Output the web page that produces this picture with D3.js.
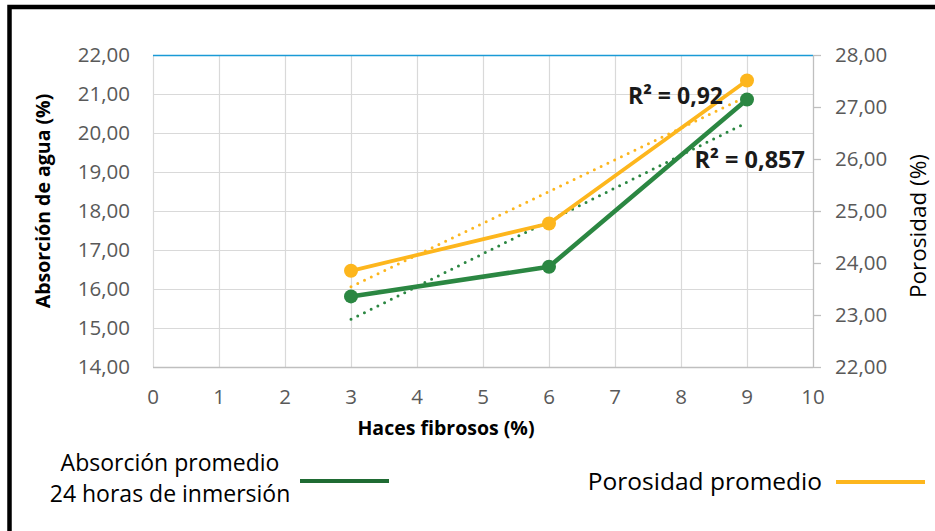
<!DOCTYPE html>
<html>
<head>
<meta charset="utf-8">
<script src="https://cdn.jsdelivr.net/npm/d3@7"></script>
<style>
  body { margin: 0; background: #fff; }
  text { font-family: "Open Sans", sans-serif; }
</style>
</head>
<body>
<div id="chart"></div>
<script>
// data
var haces = [3, 6, 9];
var absorcion = [15.81, 16.57, 20.86];   // left axis
var porosidad = [23.85, 24.76, 27.51];   // right axis
var xTicks = [0, 1, 2, 3, 4, 5, 6, 7, 8, 9, 10];
var leftTicks = [14, 15, 16, 17, 18, 19, 20, 21, 22];
var rightTicks = [22, 23, 24, 25, 26, 27, 28];
var r2Labels = ["R² = 0,92", "R² = 0,857"];

var width = 935, height = 531;
var green = "#2b8742", orange = "#fdb61d";

var svg = d3.select("#chart").append("svg")
    .attr("width", width)
    .attr("height", height);

// frame
svg.append("path")
    .attr("d", "M9.5," + height + "V7H" + width)
    .attr("fill", "none")
    .attr("stroke", "#000")
    .attr("stroke-width", 4.5);

var x = d3.scaleLinear().domain([0, 10]).range([153, 813]);
var yL = d3.scaleLinear().domain([14, 22]).range([367, 55]);
var yR = d3.scaleLinear().domain([22, 28]).range([367, 55]);

var fmt = function(d) { return d3.format(".2f")(d).replace(".", ","); };

// grid
svg.append("g").selectAll("line")
    .data(leftTicks.slice(0, -1))
    .enter().append("line")
    .attr("x1", x(0)).attr("x2", x(10))
    .attr("y1", function(d) { return yL(d) + 0.5; })
    .attr("y2", function(d) { return yL(d) + 0.5; })
    .attr("stroke", "#d9d9d9").attr("stroke-width", 1.2);
svg.append("g").selectAll("line")
    .data(xTicks.slice(0, -1))
    .enter().append("line")
    .attr("x1", function(d) { return x(d) + 0.5; })
    .attr("x2", function(d) { return x(d) + 0.5; })
    .attr("y1", yL(22)).attr("y2", yL(14))
    .attr("stroke", "#d9d9d9").attr("stroke-width", 1.2);

// top line in blue
svg.append("line")
    .attr("x1", x(0)).attr("x2", x(10))
    .attr("y1", yL(22) + 0.5).attr("y2", yL(22) + 0.5)
    .attr("stroke", "#1a9ad6").attr("stroke-width", 1.3);

// left tick labels
svg.append("g").selectAll("text")
    .data(leftTicks)
    .enter().append("text")
    .attr("x", 130)
    .attr("y", function(d) { return yL(d); })
    .attr("dy", "0.36em")
    .attr("text-anchor", "end")
    .attr("font-size", 20.5)
    .attr("fill", "#595959")
    .text(fmt);

// right axis
var axisR = svg.append("g")
    .attr("transform", "translate(" + x(10) + ",0)")
    .call(d3.axisRight(yR).tickValues(rightTicks).tickSize(8).tickSizeOuter(0).tickPadding(14).tickFormat(fmt));
axisR.select(".domain").attr("stroke", "#bfbfbf").attr("stroke-width", 1.3);
axisR.selectAll(".tick line").attr("stroke", "#bfbfbf").attr("stroke-width", 1.3);
axisR.selectAll(".tick text")
    .attr("font-family", "Open Sans, sans-serif")
    .attr("font-size", 20.5)
    .attr("fill", "#595959");

// bottom axis line and labels
svg.append("line")
    .attr("x1", x(0)).attr("x2", x(10))
    .attr("y1", yL(14) + 0.5).attr("y2", yL(14) + 0.5)
    .attr("stroke", "#bfbfbf").attr("stroke-width", 1.3);
svg.append("g").selectAll("text")
    .data(xTicks)
    .enter().append("text")
    .attr("x", function(d) { return x(d); })
    .attr("y", 397)
    .attr("dy", "0.36em")
    .attr("text-anchor", "middle")
    .attr("font-size", 20.5)
    .attr("fill", "#595959")
    .text(function(d) { return d; });

// axis titles
svg.append("text")
    .attr("x", 446).attr("y", 428)
    .attr("dy", "0.36em")
    .attr("text-anchor", "middle")
    .attr("font-size", 19.5)
    .attr("font-weight", "bold")
    .attr("fill", "#000")
    .text("Haces fibrosos (%)");
svg.append("text")
    .attr("transform", "translate(43,201) rotate(-90)")
    .attr("dy", "0.36em")
    .attr("text-anchor", "middle")
    .attr("font-size", 19.5)
    .attr("font-weight", "bold")
    .attr("fill", "#000")
    .text("Absorción de agua (%)");
svg.append("text")
    .attr("transform", "translate(918,226) rotate(-90)")
    .attr("dy", "0.36em")
    .attr("text-anchor", "middle")
    .attr("font-size", 22.5)
    .attr("fill", "#000")
    .text("Porosidad (%)");

// linear trend from the data
function fit(xs, ys) {
  var mx = d3.mean(xs), my = d3.mean(ys);
  var b = d3.sum(xs, function(v, i) { return (v - mx) * (ys[i] - my); }) /
          d3.sum(xs, function(v) { return (v - mx) * (v - mx); });
  return function(v) { return my + b * (v - mx); };
}

var series = [
  {vals: absorcion, y: yL, color: green, w: 4.5},
  {vals: porosidad, y: yR, color: orange, w: 3.8}
];

series.forEach(function(s) {
  var f = fit(haces, s.vals);
  svg.append("line")
    .attr("x1", x(haces[0])).attr("y1", s.y(f(haces[0])))
    .attr("x2", x(haces[haces.length - 1])).attr("y2", s.y(f(haces[haces.length - 1])))
    .attr("stroke", s.color)
    .attr("stroke-width", 3)
    .attr("stroke-linecap", "round")
    .attr("stroke-dasharray", "0 7.5");
});

// draw orange first then green on top (as in the reference)
series.slice().reverse().forEach(function(s) {
  var line = d3.line()
    .x(function(d) { return x(d[0]); })
    .y(function(d) { return s.y(d[1]); });
  var pts = haces.map(function(h, i) { return [h, s.vals[i]]; });
  svg.append("path")
    .attr("d", line(pts))
    .attr("fill", "none")
    .attr("stroke", s.color)
    .attr("stroke-width", s.w)
    .attr("stroke-linejoin", "round");
  svg.append("g").selectAll("circle")
    .data(pts)
    .enter().append("circle")
    .attr("cx", function(d) { return x(d[0]); })
    .attr("cy", function(d) { return s.y(d[1]); })
    .attr("r", 7)
    .attr("fill", s.color);
});

// R² labels
svg.append("text")
    .attr("x", 723).attr("y", 96)
    .attr("dy", "0.36em")
    .attr("text-anchor", "end")
    .attr("font-size", 23)
    .attr("font-weight", "bold")
    .attr("fill", "#1a1a1a")
    .text(r2Labels[0]);
svg.append("text")
    .attr("x", 805).attr("y", 160)
    .attr("dy", "0.36em")
    .attr("text-anchor", "end")
    .attr("font-size", 23.5)
    .attr("font-weight", "bold")
    .attr("fill", "#1a1a1a")
    .text(r2Labels[1]);

// legend
svg.append("text")
    .attr("x", 170).attr("y", 463)
    .attr("dy", "0.36em")
    .attr("text-anchor", "middle")
    .attr("font-size", 23)
    .attr("fill", "#000")
    .text("Absorción promedio");
svg.append("text")
    .attr("x", 170).attr("y", 494)
    .attr("dy", "0.36em")
    .attr("text-anchor", "middle")
    .attr("font-size", 23)
    .attr("fill", "#000")
    .text("24 horas de inmersión");
svg.append("line")
    .attr("x1", 300).attr("x2", 389)
    .attr("y1", 481).attr("y2", 481)
    .attr("stroke", "#1f6b33").attr("stroke-width", 4);
svg.append("text")
    .attr("x", 822).attr("y", 481)
    .attr("dy", "0.36em")
    .attr("text-anchor", "end")
    .attr("font-size", 24.5)
    .attr("fill", "#000")
    .text("Porosidad promedio");
svg.append("line")
    .attr("x1", 836).attr("x2", 925)
    .attr("y1", 482).attr("y2", 482)
    .attr("stroke", orange).attr("stroke-width", 4);
</script>
</body>
</html>
